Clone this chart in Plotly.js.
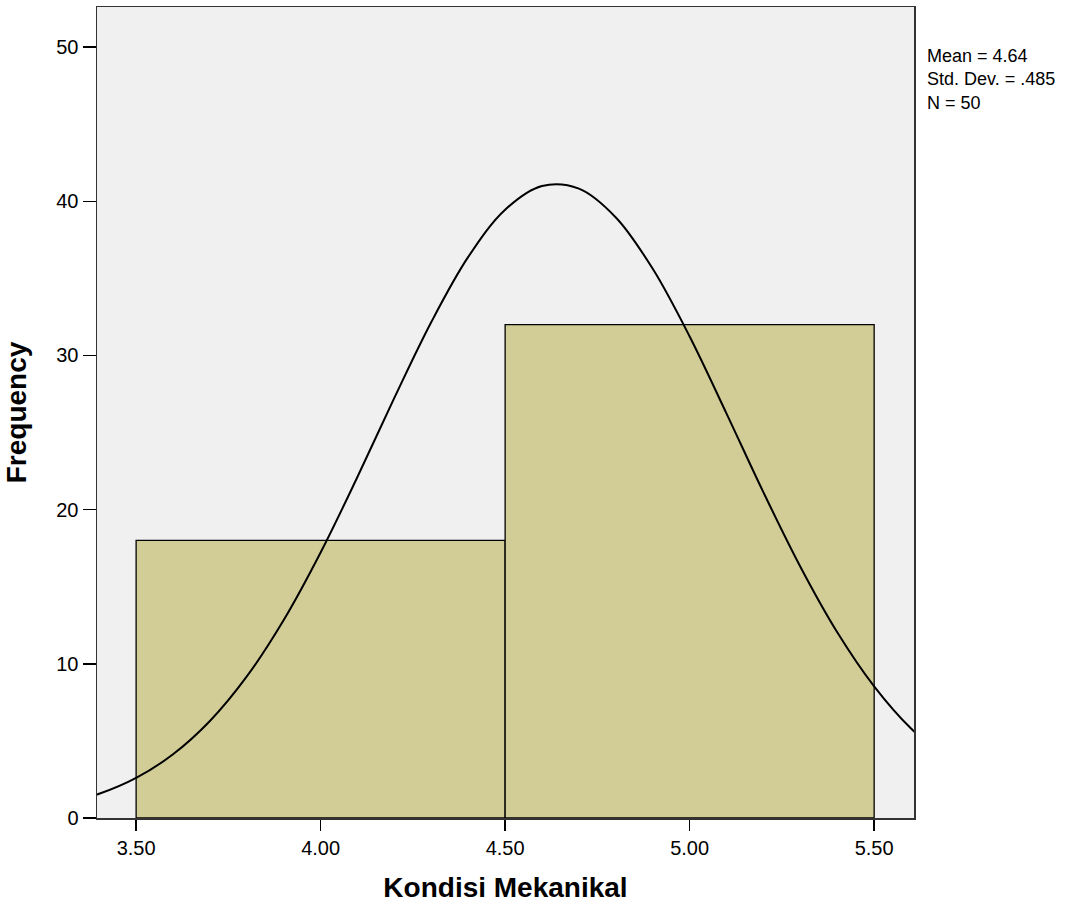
<!DOCTYPE html>
<html>
<head>
<meta charset="utf-8">
<script src="https://cdn.plot.ly/plotly-3.0.1.min.js"></script>
<style>html,body{margin:0;padding:0;background:#fff;}#chart{width:1090px;height:914px;}</style>
</head>
<body>
<div id="chart"></div>
<script>
// Histogram bins (centers) and frequencies
const binCenters = [4.0, 5.0];
const binCounts = [18, 32];
const binWidth = [1, 1];

// Normal curve points
const curveX = [3.30, 3.40, 3.50, 3.60, 3.70, 3.80, 3.90, 4.00, 4.10, 4.20, 4.30, 4.40, 4.50, 4.60, 4.70, 4.80, 4.90, 5.00, 5.10, 5.20, 5.30, 5.40, 5.50, 5.60, 5.70];
const curveY = [0.91, 1.57, 2.60, 4.13, 6.29, 9.18, 12.84, 17.22, 22.13, 27.26, 32.17, 36.39, 39.45, 40.99, 40.82, 38.95, 35.62, 31.23, 26.23, 21.12, 16.30, 12.05, 8.54, 5.80, 3.78];

const xTicks = [3.5, 4.0, 4.5, 5.0, 5.5];
const xTickLabels = ["3.50", "4.00", "4.50", "5.00", "5.50"];
const yTicks = [0, 10, 20, 30, 40, 50];

const statsLines = ["Mean = 4.64", "Std. Dev. = .485", "N = 50"];

const traces = [
  {
    type: 'bar', x: binCenters, y: binCounts, width: binWidth,
    marker: {color: '#d2cd97', line: {color: '#000', width: 1.3}},
    hoverinfo: 'skip', showlegend: false
  },
  {
    type: 'scatter', mode: 'lines', x: curveX, y: curveY,
    line: {color: '#000', width: 2, shape: 'spline'},
    hoverinfo: 'skip', showlegend: false
  }
];

const layout = {
  width: 1090, height: 914,
  margin: {l: 97, r: 176, t: 7, b: 96},
  paper_bgcolor: '#ffffff', plot_bgcolor: '#f0f0f0',
  font: {family: 'Liberation Sans, Arial, sans-serif', color: '#000', size: 20},
  bargap: 0,
  xaxis: {
    range: [3.394, 5.608], tickvals: xTicks, ticktext: xTickLabels,
    ticks: 'outside', ticklen: 11, tickwidth: 1.5, tickcolor: '#000',
    showgrid: false, zeroline: false, showline: true, linecolor: '#333', linewidth: 1.5, mirror: true,
    tickfont: {size: 20},
    title: {text: '<b>Kondisi Mekanikal</b>', font: {size: 28}, standoff: 20}
  },
  yaxis: {
    range: [0, 52.6], tickvals: yTicks,
    ticks: 'outside', ticklen: 13, tickwidth: 1.5, tickcolor: '#000',
    showgrid: false, zeroline: false, showline: true, linecolor: '#333', linewidth: 1.5, mirror: true,
    tickfont: {size: 20},
    title: {text: '<b>Frequency</b>', font: {size: 28}, standoff: 21}
  },
  annotations: [{
    xref: 'paper', yref: 'paper', x: 1, y: 1, xanchor: 'left', yanchor: 'top',
    xshift: 12, yshift: -38, text: statsLines.join('<br>'), showarrow: false, align: 'left',
    borderpad: 0, font: {size: 18, color: '#000'}
  }]
};

Plotly.newPlot('chart', traces, layout, {displayModeBar: false, staticPlot: true});
</script>
</body>
</html>
